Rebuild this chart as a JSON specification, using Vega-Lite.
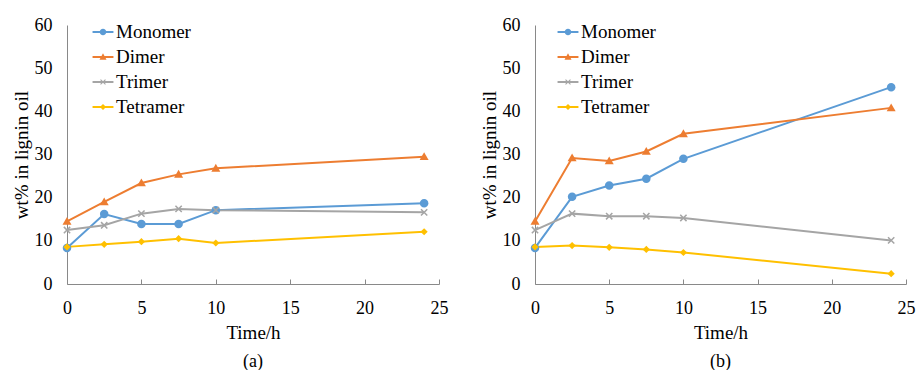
{
  "$schema": "https://vega.github.io/schema/vega-lite/v6.json",
  "background": "white",
  "padding": {"left": 12, "top": 16, "right": 4, "bottom": 0},
  "spacing": 32,
  "config": {
    "view": {"stroke": null},
    "font": "Liberation Serif",
    "axis": {"labelFont": "Liberation Serif", "labelFontSize": 18, "titleFont": "Liberation Serif", "titleFontSize": 19, "titleFontWeight": "normal", "labelColor": "#000000", "titleColor": "#000000", "domainColor": "#898989", "tickColor": "#898989", "grid": false},
    "legend": {"labelFont": "Liberation Serif", "labelFontSize": 19, "labelColor": "#000000", "padding": 0, "rowPadding": 4, "labelOffset": 2, "symbolSize": 484, "symbolStrokeWidth": 0, "symbolOpacity": 1},
    "title": {"font": "Liberation Serif", "fontSize": 18, "fontWeight": "normal", "color": "#000000"}
  },
  "datasets": {
    "a": [
      {"t": 0, "s": "Monomer", "v": 8.35}, {"t": 2.5, "s": "Monomer", "v": 16.2}, {"t": 5, "s": "Monomer", "v": 13.9}, {"t": 7.5, "s": "Monomer", "v": 13.9}, {"t": 10, "s": "Monomer", "v": 17.1}, {"t": 24, "s": "Monomer", "v": 18.7},
      {"t": 0, "s": "Dimer", "v": 14.5}, {"t": 2.5, "s": "Dimer", "v": 19.0}, {"t": 5, "s": "Dimer", "v": 23.4}, {"t": 7.5, "s": "Dimer", "v": 25.4}, {"t": 10, "s": "Dimer", "v": 26.8}, {"t": 24, "s": "Dimer", "v": 29.5},
      {"t": 0, "s": "Trimer", "v": 12.5}, {"t": 2.5, "s": "Trimer", "v": 13.6}, {"t": 5, "s": "Trimer", "v": 16.3}, {"t": 7.5, "s": "Trimer", "v": 17.4}, {"t": 10, "s": "Trimer", "v": 17.1}, {"t": 24, "s": "Trimer", "v": 16.6},
      {"t": 0, "s": "Tetramer", "v": 8.6}, {"t": 2.5, "s": "Tetramer", "v": 9.2}, {"t": 5, "s": "Tetramer", "v": 9.8}, {"t": 7.5, "s": "Tetramer", "v": 10.5}, {"t": 10, "s": "Tetramer", "v": 9.5}, {"t": 24, "s": "Tetramer", "v": 12.1}
    ],
    "b": [
      {"t": 0, "s": "Monomer", "v": 8.35}, {"t": 2.5, "s": "Monomer", "v": 20.2}, {"t": 5, "s": "Monomer", "v": 22.8}, {"t": 7.5, "s": "Monomer", "v": 24.4}, {"t": 10, "s": "Monomer", "v": 29.0}, {"t": 24, "s": "Monomer", "v": 45.6},
      {"t": 0, "s": "Dimer", "v": 14.5}, {"t": 2.5, "s": "Dimer", "v": 29.2}, {"t": 5, "s": "Dimer", "v": 28.5}, {"t": 7.5, "s": "Dimer", "v": 30.7}, {"t": 10, "s": "Dimer", "v": 34.8}, {"t": 24, "s": "Dimer", "v": 40.8},
      {"t": 0, "s": "Trimer", "v": 12.5}, {"t": 2.5, "s": "Trimer", "v": 16.3}, {"t": 5, "s": "Trimer", "v": 15.7}, {"t": 7.5, "s": "Trimer", "v": 15.7}, {"t": 10, "s": "Trimer", "v": 15.3}, {"t": 24, "s": "Trimer", "v": 10.1},
      {"t": 0, "s": "Tetramer", "v": 8.6}, {"t": 2.5, "s": "Tetramer", "v": 8.9}, {"t": 5, "s": "Tetramer", "v": 8.5}, {"t": 7.5, "s": "Tetramer", "v": 8.0}, {"t": 10, "s": "Tetramer", "v": 7.3}, {"t": 24, "s": "Tetramer", "v": 2.4}
    ]
  },
  "resolve": {"scale": {"color": "independent"}, "legend": {"color": "independent"}},
  "hconcat": [
    {
      "width": 372, "height": 259,
      "data": {"name": "a"},
      "title": {"text": "(a)", "orient": "bottom", "offset": 11},
      "encoding": {
        "x": {"field": "t", "type": "quantitative", "scale": {"domain": [0, 25], "nice": false}, "axis": {"title": "Time/h", "values": [0, 5, 10, 15, 20, 25], "tickSize": -5, "labelPadding": 20, "titlePadding": 6, "labelFlush": false}},
        "y": {"field": "v", "type": "quantitative", "scale": {"domain": [0, 60], "nice": false}, "axis": {"title": "wt% in lignin oil", "values": [0, 10, 20, 30, 40, 50, 60], "ticks": false, "labelPadding": 15, "titlePadding": 3}}
      },
      "layer": [
        {"mark": {"type": "line", "strokeWidth": 2}, "encoding": {"color": {"field": "s", "type": "nominal", "scale": {"domain": ["Monomer", "Dimer", "Trimer", "Tetramer"], "range": ["#5B9BD5", "#ED7D31", "#A5A5A5", "#FFC000"]},
          "legend": {"title": null, "orient": "none", "legendX": 25, "legendY": -4, "symbolSize": 484, "rowPadding": 4,
            "encode": {"symbols": {"update": {
              "shape": {"signal": "datum.value === 'Monomer' ? 'M-0.95,-0.08H0.95V0.08H-0.95Z M0.3,0A0.3,0.3 0 1,1 -0.3,0A0.3,0.3 0 1,1 0.3,0Z' : datum.value === 'Dimer' ? 'M-0.95,-0.08H0.95V0.08H-0.95Z M0,-0.34L0.32,0.24L-0.32,0.24Z' : datum.value === 'Trimer' ? 'M-0.95,-0.08H0.95V0.08H-0.95Z M-0.191,-0.261L0.261,0.191L0.191,0.261L-0.261,-0.191Z M0.261,-0.191L-0.191,0.261L-0.261,0.191L0.191,-0.261Z' : 'M-0.95,-0.08H0.95V0.08H-0.95Z M0,-0.28L0.28,0L0,0.28L-0.28,0Z'"},
              "fill": {"signal": "datum.value === 'Monomer' ? '#5B9BD5' : datum.value === 'Dimer' ? '#ED7D31' : datum.value === 'Trimer' ? '#A5A5A5' : '#FFC000'"},
              "fillOpacity": {"value": 1},
              "strokeWidth": {"value": 0},
              "size": {"value": 484}
            }}}}}}},
        {"transform": [{"filter": "datum.s === 'Monomer'"}], "mark": {"type": "point", "filled": true, "opacity": 1, "size": 81, "shape": "M0.95,0A0.95,0.95 0 1,1 -0.95,0A0.95,0.95 0 1,1 0.95,0Z"}, "encoding": {"color": {"field": "s", "type": "nominal", "legend": null}}},
        {"transform": [{"filter": "datum.s === 'Dimer'"}], "mark": {"type": "point", "filled": true, "opacity": 1, "size": 81, "shape": "M0,-1L1,0.75L-1,0.75Z"}, "encoding": {"color": {"field": "s", "type": "nominal", "legend": null}}},
        {"transform": [{"filter": "datum.s === 'Trimer'"}], "mark": {"type": "point", "filled": true, "opacity": 1, "size": 81, "shape": "M-0.58,-0.82L0.82,0.58L0.58,0.82L-0.82,-0.58Z M0.82,-0.58L-0.58,0.82L-0.82,0.58L0.58,-0.82Z"}, "encoding": {"color": {"field": "s", "type": "nominal", "legend": null}}},
        {"transform": [{"filter": "datum.s === 'Tetramer'"}], "mark": {"type": "point", "filled": true, "opacity": 1, "size": 81, "shape": "M0,-0.8L0.8,0L0,0.8L-0.8,0Z"}, "encoding": {"color": {"field": "s", "type": "nominal", "legend": null}}}
      ]
    },
    {
      "width": 371, "height": 259,
      "data": {"name": "b"},
      "title": {"text": "(b)", "orient": "bottom", "offset": 11},
      "encoding": {
        "x": {"field": "t", "type": "quantitative", "scale": {"domain": [0, 25], "nice": false}, "axis": {"title": "Time/h", "values": [0, 5, 10, 15, 20, 25], "tickSize": -5, "labelPadding": 20, "titlePadding": 6, "labelFlush": false}},
        "y": {"field": "v", "type": "quantitative", "scale": {"domain": [0, 60], "nice": false}, "axis": {"title": "wt% in lignin oil", "values": [0, 10, 20, 30, 40, 50, 60], "ticks": false, "labelPadding": 15, "titlePadding": 3}}
      },
      "layer": [
        {"mark": {"type": "line", "strokeWidth": 2}, "encoding": {"color": {"field": "s", "type": "nominal", "scale": {"domain": ["Monomer", "Dimer", "Trimer", "Tetramer"], "range": ["#5B9BD5", "#ED7D31", "#A5A5A5", "#FFC000"]},
          "legend": {"title": null, "orient": "none", "legendX": 22, "legendY": -4, "symbolSize": 484, "rowPadding": 4,
            "encode": {"symbols": {"update": {
              "shape": {"signal": "datum.value === 'Monomer' ? 'M-0.95,-0.08H0.95V0.08H-0.95Z M0.3,0A0.3,0.3 0 1,1 -0.3,0A0.3,0.3 0 1,1 0.3,0Z' : datum.value === 'Dimer' ? 'M-0.95,-0.08H0.95V0.08H-0.95Z M0,-0.34L0.32,0.24L-0.32,0.24Z' : datum.value === 'Trimer' ? 'M-0.95,-0.08H0.95V0.08H-0.95Z M-0.191,-0.261L0.261,0.191L0.191,0.261L-0.261,-0.191Z M0.261,-0.191L-0.191,0.261L-0.261,0.191L0.191,-0.261Z' : 'M-0.95,-0.08H0.95V0.08H-0.95Z M0,-0.28L0.28,0L0,0.28L-0.28,0Z'"},
              "fill": {"signal": "datum.value === 'Monomer' ? '#5B9BD5' : datum.value === 'Dimer' ? '#ED7D31' : datum.value === 'Trimer' ? '#A5A5A5' : '#FFC000'"},
              "fillOpacity": {"value": 1},
              "strokeWidth": {"value": 0},
              "size": {"value": 484}
            }}}}}}},
        {"transform": [{"filter": "datum.s === 'Monomer'"}], "mark": {"type": "point", "filled": true, "opacity": 1, "size": 81, "shape": "M0.95,0A0.95,0.95 0 1,1 -0.95,0A0.95,0.95 0 1,1 0.95,0Z"}, "encoding": {"color": {"field": "s", "type": "nominal", "legend": null}}},
        {"transform": [{"filter": "datum.s === 'Dimer'"}], "mark": {"type": "point", "filled": true, "opacity": 1, "size": 81, "shape": "M0,-1L1,0.75L-1,0.75Z"}, "encoding": {"color": {"field": "s", "type": "nominal", "legend": null}}},
        {"transform": [{"filter": "datum.s === 'Trimer'"}], "mark": {"type": "point", "filled": true, "opacity": 1, "size": 81, "shape": "M-0.58,-0.82L0.82,0.58L0.58,0.82L-0.82,-0.58Z M0.82,-0.58L-0.58,0.82L-0.82,0.58L0.58,-0.82Z"}, "encoding": {"color": {"field": "s", "type": "nominal", "legend": null}}},
        {"transform": [{"filter": "datum.s === 'Tetramer'"}], "mark": {"type": "point", "filled": true, "opacity": 1, "size": 81, "shape": "M0,-0.8L0.8,0L0,0.8L-0.8,0Z"}, "encoding": {"color": {"field": "s", "type": "nominal", "legend": null}}}
      ]
    }
  ]
}
